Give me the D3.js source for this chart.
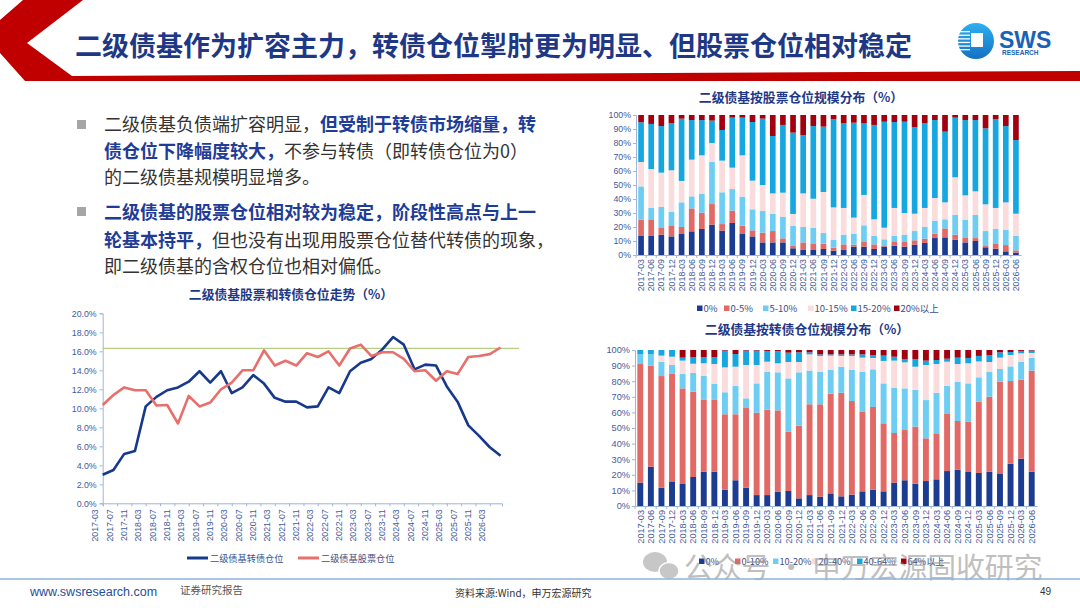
<!DOCTYPE html>
<html><head><meta charset="utf-8">
<script src="https://cdn.jsdelivr.net/npm/d3@7/dist/d3.min.js"></script>
<style>
html,body{margin:0;padding:0;background:#fff;}
svg{display:block;}
text{font-family:"Liberation Sans","Noto Sans CJK SC",sans-serif;}
.cjk{font-family:"Noto Sans CJK SC","Liberation Sans",sans-serif;}
</style></head><body>
<svg id="c" width="1080" height="608"></svg>
<script>
// ---------- DATA ----------
const quarters = ["2017-03","2017-06","2017-09","2017-12","2018-03","2018-06","2018-09","2018-12","2019-03","2019-06","2019-09","2019-12","2020-03","2020-06","2020-09","2020-12","2021-03","2021-06","2021-09","2021-12","2022-03","2022-06","2022-09","2022-12","2023-03","2023-06","2023-09","2023-12","2024-03","2024-06","2024-09","2024-12","2025-03","2025-06","2025-09","2025-12","2026-03","2026-06"];
const lineTickLabels = ["2017-03","2017-07","2017-11","2018-03","2018-07","2018-11","2019-03","2019-07","2019-11","2020-03","2020-07","2020-11","2021-03","2021-07","2021-11","2022-03","2022-07","2022-11","2023-03","2023-07","2023-11","2024-03","2024-07","2024-11","2025-03","2025-07","2025-11","2026-03"];
const lineYTicks = [0,2,4,6,8,10,12,14,16,18,20];
const cbPosition = [3.0,3.5,5.2,5.5,10.2,11.2,11.9,12.2,12.8,13.9,12.7,13.9,11.6,12.2,13.5,12.6,11.1,10.7,10.7,10.1,10.2,12.2,11.6,13.9,14.8,15.2,16.2,17.5,16.7,14.1,14.6,14.5,12.3,10.7,8.2,7.1,5.9,5.0];
const stockPosition = [10.35,11.4,12.2,11.9,11.9,10.3,10.35,8.4,11.3,10.2,10.6,12.0,12.7,14.0,14.0,16.1,14.5,15.0,14.5,15.8,15.4,16.0,14.5,16.3,16.7,15.5,15.9,15.9,15.2,13.9,14.0,12.9,13.9,13.6,15.4,15.5,15.7,16.4];
const refLevel = 16.3;
const lineSeriesNames = ["二级债基转债仓位","二级债基股票仓位"];

const eqBands = ["0%","0-5%","5-10%","10-15%","15-20%","20%以上"];
const eqZero   = [13.6,13.6,14.5,13.3,15.0,16.9,18.6,21.7,17.4,22.9,15.0,13.3,9.0,9.0,9.0,4.8,3.6,3.6,4.3,3.1,3.6,6.0,6.0,4.3,6.0,6.7,6.0,7.4,8.6,12.1,12.6,11.0,9.0,10.0,5.5,4.5,2.6,1.7];
const eq0to5   = [11.6,11.4,4.8,7.9,5.0,16.4,11.6,14.7,4.7,8.8,6.0,4.3,7.0,8.1,2.9,1.6,5.4,4.7,3.8,2.1,4.0,1.4,3.3,3.3,0.9,2.6,3.3,3.1,3.1,3.1,6.4,3.5,3.6,2.1,0.9,3.8,4.5,1.6];
const eq5to10  = [23.8,8.6,15.0,9.8,17.6,8.6,13.4,30.0,22.7,15.4,20.7,15.0,15.4,12.4,15.5,14.3,11.0,11.0,7.6,5.8,6.9,7.8,11.9,6.0,4.3,4.5,5.2,6.6,8.5,9.3,6.5,14.1,12.4,16.5,10.7,10.3,11.0,10.3];
const eq10to15 = [17.4,27.8,24.5,29.5,15.3,26.2,27.6,13.6,22.6,15.3,29.5,20.5,18.6,14.5,17.1,8.6,24.0,20.9,29.3,23.0,19.1,11.5,21.7,11.9,8.3,19.8,15.5,12.4,13.4,16.2,12.1,26.9,17.6,16.9,19.1,15.0,19.5,15.9];
const eq15to20 = [28.4,32.2,33.3,33.5,44.5,28.3,25.2,16.0,21.9,35.7,26.9,41.9,47.4,41.0,48.4,58.1,41.7,51.9,46.7,63.1,60.4,67.8,51.1,67.4,75.7,61.4,65.2,61.7,60.4,55.7,50.5,42.6,53.8,50.9,54.3,63.5,54.5,52.6];
const eqOver20 = [5.2,6.4,7.9,6.0,2.6,3.6,3.6,4.0,10.7,1.9,1.9,5.0,2.6,15.0,7.1,12.6,14.3,7.9,8.3,2.9,6.0,5.5,6.0,7.1,4.8,5.0,4.8,8.8,6.0,3.6,11.9,1.9,3.6,3.6,9.5,2.9,7.9,17.9];

const cbBands = ["0%","0-10%","10-20%","20-40%","40-64%","64%以上"];
const cbZero    = [15.0,25.2,11.8,15.4,14.1,18.6,22.0,22.0,10.5,16.5,11.8,7.0,7.0,9.2,9.6,4.9,7.0,6.0,8.1,6.2,7.3,9.4,10.5,9.4,15.0,16.5,14.3,16.0,17.1,22.4,23.3,21.8,21.2,22.0,20.9,27.1,30.3,22.0];
const cb0to10   = [76.0,64.8,71.5,69.6,61.3,54.7,46.0,46.0,48.3,42.3,51.0,52.8,54.8,52.1,38.0,46.6,58.2,59.2,63.9,66.4,60.0,50.9,53.0,43.6,31.8,32.2,36.6,27.4,29.5,36.6,31.2,32.3,45.7,48.1,58.8,53.0,50.7,64.8];
const cb10to20  = [6.4,7.2,9.2,5.4,9.2,12.0,15.5,10.2,14.1,18.1,6.2,18.8,24.1,24.4,34.2,34.2,21.6,20.9,15.4,16.7,20.1,25.8,24.1,25.6,29.1,26.7,23.5,24.5,26.0,18.1,25.2,24.5,15.6,16.0,8.1,9.4,11.3,8.1];
const cb20to40  = [0,0,3.9,5.3,8.6,5.9,8.0,12.8,16.0,12.4,21.4,11.8,6.6,5.8,10.5,6.6,10.4,10.1,9.0,6.9,8.8,9.0,7.3,14.4,17.3,16.7,14.9,22.5,18.4,15.4,11.3,12.9,10.2,6.2,7.3,7.3,5.6,3.2];
const cb40to64  = [2.6,2.8,3.6,4.3,1.9,4.1,3.8,4.3,10.7,8.1,9.2,9.2,6.9,7.9,6.0,6.2,1.3,1.0,0.8,1.0,1.0,2.1,1.7,3.4,2.5,2.1,4.9,2.8,2.6,1.9,4.1,3.4,3.5,4.5,3.4,1.9,1.5,1.5];
const cbOver64  = [0,0,0,0,4.9,4.7,4.7,4.7,0.4,2.6,0.4,0.4,0.6,0.6,1.7,1.5,1.5,2.8,2.8,2.8,2.8,2.8,3.4,3.6,4.3,5.8,5.8,6.8,6.4,5.6,4.9,5.1,3.8,3.2,1.5,1.3,0.6,0.4];
const pctTicks = [0,10,20,30,40,50,60,70,80,90,100];

// ---------- STYLE ----------
const segColors = ["#1b3c91","#e26a66","#6dcdf3","#fadcdc","#17a7e0","#a3000f"];
const navy = "#1f3886";
const axisCol = "#9fb6d9";
const tickTxt = "#3f5b9c";

const svg = d3.select("#c");
const defs = svg.append("defs");
const lg = defs.append("linearGradient").attr("id","logoG").attr("x1","0").attr("y1","0").attr("x2","0").attr("y2","1");
lg.append("stop").attr("offset","0").attr("stop-color","#2fb0ee");
lg.append("stop").attr("offset","1").attr("stop-color","#1470c4");

// ---------- HEADER ----------
svg.append("polygon")
  .attr("points","23,0 83,0 27,43 72,76 1080,71 1080,81 25,81 0,53 0,20")
  .attr("fill","#c00000");
svg.append("text").attr("class","cjk")
  .attr("x",75).attr("y",56)
  .attr("font-size",27).attr("font-weight",700).attr("fill",navy)
  .text("二级债基作为扩容主力，转债仓位掣肘更为明显、但股票仓位相对稳定");
// logo
const logo = svg.append("g");
logo.append("circle").attr("cx",976).attr("cy",41).attr("r",18).attr("fill","url(#logoG)");
[0,1,2,3,4,5].forEach(i=>{
  logo.append("rect").attr("x",957).attr("y",31+i*3.6).attr("width",13).attr("height",1.3).attr("fill","#fff");
});
logo.append("rect").attr("x",971).attr("y",33).attr("width",12).attr("height",14).attr("fill","#fff");
logo.append("text").attr("x",999).attr("y",48).attr("font-size",23).attr("font-weight",700).attr("fill","#1a62b5").text("SWS");
logo.append("text").attr("x",1002).attr("y",54.5).attr("font-size",6.5).attr("font-weight",700).attr("fill","#1a62b5").text("RESEARCH");

// ---------- LEFT TEXT ----------
const bulletLines = [
  {y:131, parts:[["二级债基负债端扩容明显，",0],["但受制于转债市场缩量，转",1]]},
  {y:158, parts:[["债仓位下降幅度较大，",1],["不参与转债（即转债仓位为0）",0]]},
  {y:184, parts:[["的二级债基规模明显增多。",0]]},
  {y:219, parts:[["二级债基的股票仓位相对较为稳定，阶段性高点与上一",1]]},
  {y:247, parts:[["轮基本持平，",1],["但也没有出现用股票仓位替代转债的现象，",0]]},
  {y:273, parts:[["即二级债基的含权仓位也相对偏低。",0]]}
];
bulletLines.forEach(l=>{
  const t = svg.append("text").attr("class","cjk").attr("x",104).attr("y",l.y).attr("font-size",18);
  l.parts.forEach(p=>{
    t.append("tspan").text(p[0]).attr("fill",p[1]?"#1f3c96":"#333").attr("font-weight",p[1]?700:400);
  });
});
[124,211].forEach(y=>svg.append("rect").attr("x",77).attr("y",y-4).attr("width",9).attr("height",9).attr("fill","#a6a6a6"));

// ---------- LINE CHART ----------
const lx = d3.scaleLinear().domain([0,111.4]).range([102.7,502]);
const ly = d3.scaleLinear().domain([0,20]).range([503.3,313.3]);
svg.append("text").attr("class","cjk").attr("x",291).attr("y",299).attr("text-anchor","middle")
  .attr("font-size",12.8).attr("font-weight",700).attr("fill",navy).text("二级债基股票和转债仓位走势（%）");
const lyAxis = svg.append("g").attr("transform","translate(102.7,0)")
  .call(d3.axisLeft(ly).tickValues(lineYTicks).tickSize(3).tickFormat(d=>d3.format(".1f")(d)+"%"));
const lxAxis = svg.append("g").attr("transform","translate(0,503.3)")
  .call(d3.axisBottom(lx).tickValues(lineTickLabels.map((d,i)=>i*4)).tickSize(3).tickFormat((d,i)=>lineTickLabels[i]));
[lyAxis,lxAxis].forEach(a=>{a.selectAll("path,line").attr("stroke",axisCol);a.selectAll("text").attr("fill",tickTxt).attr("font-size",8.8);});
lxAxis.selectAll("text").attr("transform","rotate(-90)").attr("text-anchor","end").attr("dx","-4").attr("dy","-0.55em").attr("y",0).attr("x",-2);
svg.append("line").attr("x1",102.7).attr("x2",519).attr("y1",ly(refLevel)).attr("y2",ly(refLevel)).attr("stroke","#b7cf80").attr("stroke-width",1.2);
const lineGen = d3.line().x((d,i)=>lx(i*3)).y(d=>ly(d));
svg.append("path").datum(cbPosition).attr("d",lineGen).attr("fill","none").attr("stroke","#17398c").attr("stroke-width",2.6).attr("stroke-linejoin","round");
svg.append("path").datum(stockPosition).attr("d",lineGen).attr("fill","none").attr("stroke","#e8706c").attr("stroke-width",2.6).attr("stroke-linejoin","round");
const lineLeg = [[187,"#17398c"],[298,"#e8706c"]];
lineLeg.forEach((l,i)=>{
  svg.append("line").attr("x1",l[0]).attr("x2",l[0]+21).attr("y1",558).attr("y2",558).attr("stroke",l[1]).attr("stroke-width",3);
  svg.append("text").attr("class","cjk").attr("x",l[0]+23).attr("y",561.5).attr("font-size",9.2).attr("fill","#3b4f86").text(lineSeriesNames[i]);
});

// ---------- STACKED BAR CHARTS ----------
function stackedChart(opt){
  const rows = quarters.map((q,i)=>{const r={q}; opt.keys.forEach((k,j)=>r[k]=opt.series[j][i]); return r;});
  const stack = d3.stack().keys(opt.keys)(rows);
  const x = d3.scaleBand().domain(quarters).range([opt.x0,opt.x1]).paddingInner(0.44).paddingOuter(0.22);
  const y = d3.scaleLinear().domain([0,100]).range([opt.yb,opt.yt]);
  svg.append("text").attr("class","cjk").attr("x",opt.titleX).attr("y",opt.titleY).attr("text-anchor","middle")
    .attr("font-size",12.8).attr("font-weight",700).attr("fill",navy).text(opt.title);
  const g = svg.append("g");
  stack.forEach((s,j)=>{
    g.selectAll(null).data(s).enter().append("rect")
      .attr("x",d=>x(d.data.q)).attr("width",x.bandwidth())
      .attr("y",d=>y(Math.min(100,d[1]))).attr("height",d=>Math.max(0,y(d[0])-y(Math.min(100,d[1]))))
      .attr("fill",segColors[j]);
  });
  const ya = svg.append("g").attr("transform",`translate(${opt.x0},0)`)
    .call(d3.axisLeft(y).tickValues(pctTicks).tickSize(3).tickFormat(d=>d+"%"));
  const xa = svg.append("g").attr("transform",`translate(0,${opt.yb})`)
    .call(d3.axisBottom(x).tickSize(0));
  [ya,xa].forEach(a=>{a.selectAll("path,line").attr("stroke",axisCol);a.selectAll("text").attr("fill",tickTxt).attr("font-size",opt.fs);});
  ya.selectAll("text").attr("x",-5);
  xa.selectAll("text").attr("transform","rotate(-90)").attr("text-anchor","end").attr("x",-4).attr("y",0).attr("dy","0.35em");
  xa.selectAll(".sep").data(quarters).enter().append("line")
    .attr("x1",d=>x(d)-x.step()*x.paddingInner()/2).attr("x2",d=>x(d)-x.step()*x.paddingInner()/2)
    .attr("y1",0).attr("y2",3).attr("stroke",axisCol);
  opt.keys.forEach((k,j)=>{
    svg.append("rect").attr("x",opt.legX[j]).attr("y",opt.legY-3.5).attr("width",5.5).attr("height",5.5).attr("fill",segColors[j]);
    svg.append("text").attr("class","cjk").attr("x",opt.legX[j]+6.5).attr("y",opt.legY+2.8).attr("font-size",opt.legFs).attr("fill","#3b4f86").text(k);
  });
}
stackedChart({keys:eqBands, series:[eqZero,eq0to5,eq5to10,eq10to15,eq15to20,eqOver20],
  x0:636,x1:1021,yb:255,yt:115,title:"二级债基按股票仓位规模分布（%）",titleX:801,titleY:102,fs:8.8,
  legX:[697,724,763,808,851,894],legY:309,legFs:9.5});
stackedChart({keys:cbBands, series:[cbZero,cb0to10,cb10to20,cb20to40,cb40to64,cbOver64],
  x0:635,x1:1037,yb:506,yt:350,title:"二级债基按转债仓位规模分布（%）",titleX:807,titleY:334,fs:9.2,
  legX:[699,735,773,812,857,901],legY:562,legFs:9.2});

// ---------- WATERMARK ----------
const wm = svg.append("g").attr("opacity",0.55);
wm.append("ellipse").attr("cx",655).attr("cy",562).attr("rx",12).attr("ry",10).attr("fill","#9a9a9a");
wm.append("ellipse").attr("cx",669).attr("cy",571).attr("rx",10).attr("ry",8.5).attr("fill","#9a9a9a").attr("stroke","#fff").attr("stroke-width",1.5);
wm.append("text").attr("class","cjk").attr("x",684).attr("y",578).attr("font-size",28.8).attr("fill","#8c8c8c").text("公众号 · 申万宏源固收研究");

// ---------- FOOTER ----------
svg.append("line").attr("x1",0).attr("x2",1080).attr("y1",579).attr("y2",579).attr("stroke","#8fb3d9").attr("stroke-width",1.5);
svg.append("text").attr("x",30).attr("y",596).attr("font-size",12.5).attr("fill","#1f4e9c").text("www.swsresearch.com");
svg.append("text").attr("class","cjk").attr("x",180).attr("y",594).attr("font-size",10.5).attr("fill","#555").text("证券研究报告");
svg.append("text").attr("class","cjk").attr("x",455).attr("y",597).attr("font-size",10).attr("fill","#333").text("资料来源:Wind，申万宏源研究");
svg.append("text").attr("x",1040).attr("y",595).attr("font-size",10).attr("fill","#333").text("49");
</script>
</body></html>
